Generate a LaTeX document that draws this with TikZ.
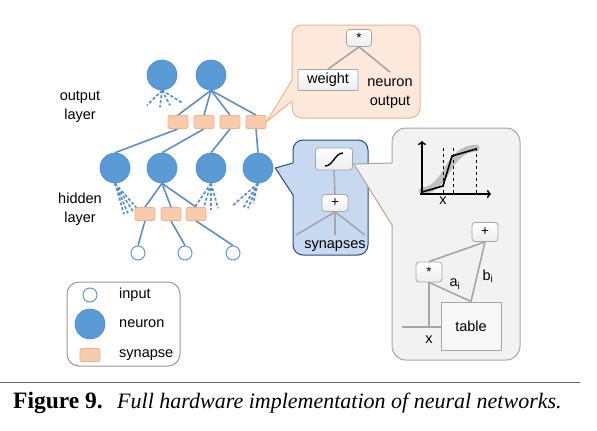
\documentclass[tikz,border=0pt]{standalone}
\usepackage{fontspec}
\setmainfont{Liberation Sans}
\newfontfamily\capfont{Liberation Serif}
\usetikzlibrary{calc,arrows.meta,backgrounds}
\definecolor{neu}{HTML}{5B9BD5}
\definecolor{neuedge}{HTML}{4F8BC9}
\definecolor{nline}{HTML}{5A8FCB}
\definecolor{synfill}{HTML}{F8CBAD}
\definecolor{synedge}{HTML}{F4B183}
\definecolor{orfill}{HTML}{FDE9DC}
\definecolor{oredge}{HTML}{F4B183}
\definecolor{blfill}{HTML}{C6D9F0}
\definecolor{bledge}{HTML}{2B4A74}
\definecolor{gyfill}{HTML}{F2F2F2}
\definecolor{gyedge}{HTML}{A6A6A6}
\definecolor{lgedge}{HTML}{9A9A9A}
\begin{document}
\begin{tikzpicture}[x=1pt,y=-1pt,
  font=\fontsize{14.5}{19}\selectfont,
  neuron/.style={circle,fill=neu,draw=neuedge,line width=0.6,minimum size=30,inner sep=0},
  inpt/.style={circle,fill=white,draw=neu,line width=1,minimum size=14,inner sep=0},
  syn/.style={rounded corners=2,fill=synfill,draw=synedge,line width=0.8,minimum width=20,minimum height=13,inner sep=0},
  wire/.style={draw=nline,line width=1.6},
  dwire/.style={draw=nline,line width=1.7,dash pattern=on 3pt off 2pt},
  opbox/.style={rounded corners=3,top color=white,bottom color=gray!14,draw=gyedge,line width=0.8,inner sep=0},
  opsym/.style={font=\fontsize{13.5}{14}\selectfont},
  gline/.style={draw=gyedge,line width=1.6},
  lbl/.style={inner sep=0,align=center},
]
\useasboundingbox (0,0) rectangle (597,431);

% ---------------- network ----------------
\node[neuron] (o1) at (162,75) {};
\node[neuron] (o2) at (211,75) {};
\node[neuron] (h1) at (115,168) {};
\node[neuron] (h2) at (162,168) {};
\node[neuron] (h3) at (211,168) {};
\node[neuron] (h4) at (258,168) {};
\node[syn] (s1) at (178,122) {};
\node[syn] (s2) at (204,122) {};
\node[syn] (s3) at (230,122) {};
\node[syn] (s4) at (256,122) {};
\node[syn] (t1) at (145,214) {};
\node[syn] (t2) at (171,214) {};
\node[syn] (t3) at (196,214) {};
\node[inpt] (i1) at (138,253) {};
\node[inpt] (i2) at (185,253) {};
\node[inpt] (i3) at (233,253) {};

\begin{scope}[on background layer]
  \foreach \s in {s1,s2,s3,s4} \draw[wire] (o2.south) -- (\s.north);
  \draw[wire] (s1.south) -- (h1.north);
  \draw[wire] (s2.south) -- (h2.north);
  \draw[wire] (s3.south) -- (h3.north);
  \draw[wire] (s4.south) -- (h4.north);
  \foreach \t in {t1,t2,t3} \draw[wire] (h2.south) -- (\t.north);
  \draw[wire] (t1.south) -- (i1.north);
  \draw[wire] (t2.south) -- (i2.north);
  \draw[wire] (t3.south) -- (i3.north);
  \foreach \d in {(-15,15),(-2,17),(8,15),(21,13)} \draw[dwire] (o1.south) -- ++\d;
  \foreach \d in {(9,31),(13,30),(18,28),(22,25)} \draw[dwire] (h1.south) -- ++\d;
  \foreach \d in {(-17,25),(-8,27),(0,27),(7,25)} \draw[dwire] (h3.south) -- ++\d;
  \foreach \d in {(-25,22),(-15,25),(-10,25),(-5,20)} \draw[dwire] (h4.south) -- ++\d;
\end{scope}

\node[lbl] (tout) at (80,107) {output\\layer};
\node[lbl] (thid) at (80,209) {hidden\\layer};

% ---------------- orange callout ----------------
\draw[fill=orfill,draw=oredge,line width=1,rounded corners=10] (292,25) rectangle (420,118);
\coordinate (oa) at (292,80);
\coordinate (ob) at (292,101);
\fill[orfill] ($(oa)+(0.8,0)$) -- (s4.east) -- ($(ob)+(0.8,0)$) -- cycle;
\draw[draw=oredge,line width=1] (oa) -- (s4.east) -- (ob);
\node[opbox,opsym,minimum width=25,minimum height=17] (sb) at (359,38) {*};
\node[opbox,rounded corners=1,minimum width=60,minimum height=21] (wt) at (328,80) {weight};
\node[lbl] (nout) at (390,94) {neuron\\output};
\coordinate (noutt) at (390,72);
\draw[gline] (sb.south) -- (wt.north);
\draw[gline] (sb.south) -- (noutt);

% ---------------- blue callout ----------------
\draw[fill=blfill,draw=bledge,line width=1,rounded corners=10] (293,140) rectangle (368,255);
\coordinate (ba) at (293,163);
\coordinate (bb) at (293,195);
\coordinate (bt) at ($(h4.east)+(2,0)$);
\fill[blfill] ($(ba)+(0.8,0)$) -- (bt) -- ($(bb)+(0.8,0)$) -- cycle;
\draw[draw=bledge,line width=1] (ba) -- (bt) -- (bb);
\node[opbox,minimum width=37,minimum height=22] (sg) at (334,159) {};
\draw[line width=1.4] ($(sg.center)+(-9,7)$) .. controls ($(sg.center)+(-1,7)$) and ($(sg.center)+(1,-6)$) .. ($(sg.center)+(9,-6)$);
\node[opbox,opsym,minimum width=26,minimum height=17] (pl) at (335,203) {+};
\coordinate (f1) at (296,235);
\coordinate (f2) at (335,235);
\coordinate (f3) at (365,235);
\draw[gline] (sg.south) -- (pl.north);
\foreach \f in {f1,f2,f3} \draw[gline] (pl.south) -- (\f);
\node[lbl] (tsyn) at (335,246) {synapses};

% ---------------- gray callout ----------------
\draw[fill=gyfill,draw=gyedge,line width=1,rounded corners=14] (392,128) rectangle (520,360);
\coordinate (ga) at (392,163);
\coordinate (gb) at (392,225);
\coordinate (gt) at ($(sg.east)+(1,5)$);
\fill[gyfill] ($(ga)+(0.8,0)$) -- (gt) -- ($(gb)+(0.8,0)$) -- cycle;
\draw[draw=gyedge,line width=1] (ga) -- (gt) -- (gb);
% plot
\coordinate (org) at (422,194);
\draw[line width=7,draw=gray!50,line cap=round] (422,191) .. controls (448,189) and (446,150) .. (476,148);
\draw[line width=1.5,-{To[length=4,width=8]}] (org) -- (422,141);
\draw[line width=1.5,-{To[length=4,width=8]}] (420,194) -- (491,194);
\foreach \xx in {443,453,476} \draw[dashed,line width=0.8] (\xx,148) -- (\xx,194);
\draw[line width=1.6] (422,192) -- (443,186) -- (452,156) -- (476,149);
\node[lbl] (gx) at (443,201) {x};
% lower diagram
\node[opbox,opsym,minimum width=26,minimum height=19] (pl2) at (485,232) {+};
\node[opbox,opsym,minimum width=26,minimum height=20] (st) at (429,272) {*};
\node[draw=gyedge,line width=1,fill=gyfill!50!white,minimum width=60,minimum height=48,inner sep=0] (tb) at (471,326) {table};
\coordinate (xl) at (402,327);
\coordinate (xj) at (429,327);
\draw[gline] (pl2.south) -- (st.north);
\draw[gline] (pl2.south) -- (tb.north);
\draw[gline] (st.south) -- (tb.north);
\draw[gline] (st.south) -- (xj);
\draw[gline] (xl) -- (tb.west |- xl);
\node[lbl] (la) at (455,284) {a\textsubscript{i}};
\node[lbl] (lb) at (488,276) {b\textsubscript{i}};
\node[lbl] (lx) at (429,340) {x};

% ---------------- legend ----------------
\draw[draw=lgedge,fill=white,line width=1,rounded corners=12] (67,282) rectangle (180,366);
\node[inpt] (li) at (90,295) {};
\node[neuron] (ln) at (90,324) {};
\node[syn] (ls) at (90,355) {};
\node[lbl,anchor=west] (lti) at (119,295) {input};
\node[lbl,anchor=west] (ltn) at (119,324) {neuron};
\node[lbl,anchor=west] (lts) at (119,355) {synapse};

% ---------------- caption ----------------
\draw[draw=gray!80!black,line width=1] (0,382) -- (580,382);
\node[anchor=base west,inner sep=0,font=\capfont\fontsize{23.5}{26}\selectfont\bfseries] (cf) at (13,408) {Figure 9.};
\node[anchor=base west,inner sep=0,font=\capfont\fontsize{22}{26}\selectfont\itshape] (ct) at (117,408) {Full hardware implementation of neural networks.};
\end{tikzpicture}
\end{document}
